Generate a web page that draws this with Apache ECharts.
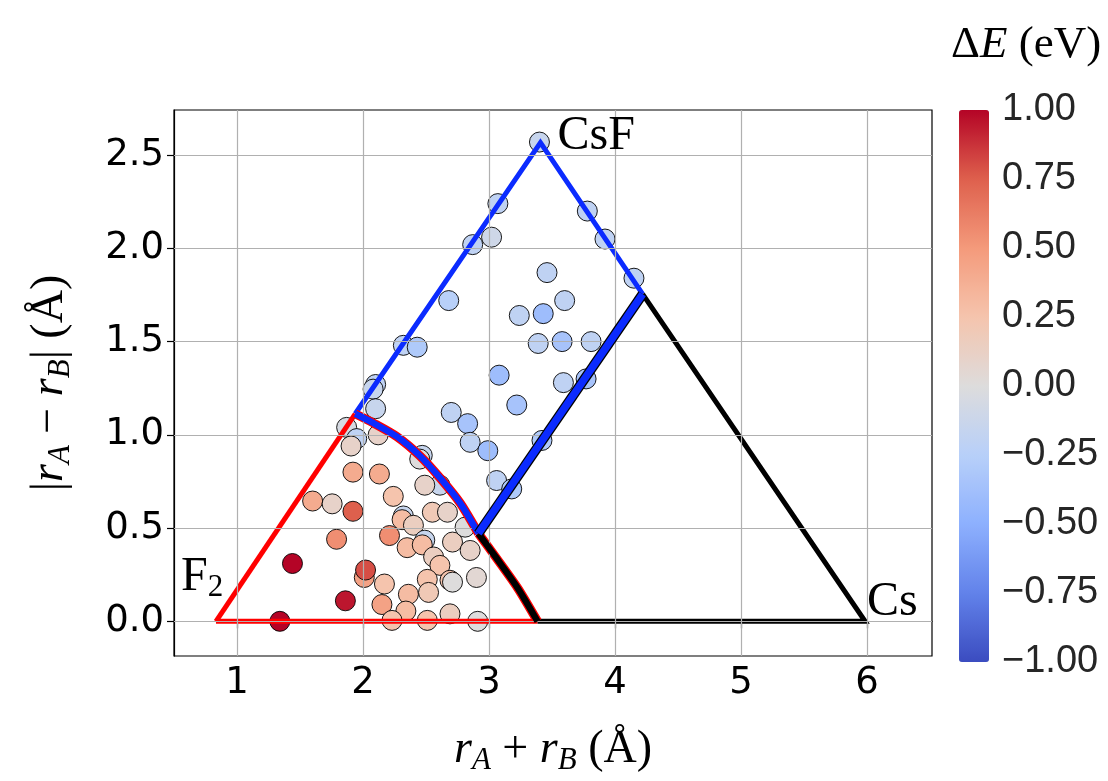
<!DOCTYPE html>
<html><head><meta charset="utf-8">
<script src="https://cdn.jsdelivr.net/npm/echarts@6/dist/echarts.min.js"></script>
<style>html,body{margin:0;padding:0;background:#fff}#c{width:1108px;height:781px}</style>
</head><body><div id="c"></div>
<script>
// ---- data ----
const xTicks = [1, 2, 3, 4, 5, 6];
const yTicks = [0, 0.5, 1, 1.5, 2, 2.5];
const cbTicks = [-1, -0.75, -0.5, -0.25, 0, 0.25, 0.5, 0.75, 1];

// vertices of the phase-diagram boundaries
const F2 = [0.833, 0];
const CsF = [3.408, 2.567];
const Cs = [5.984, 0];
const cornerTop = [1.938, 1.113];
const cornerRight = [4.219, 1.755];
const cornerMid = [2.916, 0.471];
const cornerBottom = [3.385, 0];
// curved boundary
const arcBlue = [[1.938, 1.113], [2.08, 1.064], [2.27, 0.99], [2.45, 0.888], [2.61, 0.77], [2.77, 0.635], [2.916, 0.471]];
const arcBlack = [[2.916, 0.471], [3.06, 0.338], [3.227, 0.179], [3.385, 0]];

// annotation labels
const annotNames = ['CsF', 'Cs', 'F2'];

// scatter points: [rA+rB, |rA-rB|, dE]
const points = [
  [3.40, 2.57, -0.15], [3.07, 2.24, -0.2], [3.78, 2.20, -0.2], [3.92, 2.05, -0.2],
  [3.02, 2.06, -0.1], [2.87, 2.02, -0.2], [4.15, 1.84, -0.2], [3.46, 1.87, -0.2],
  [2.68, 1.72, -0.25], [3.24, 1.64, -0.2], [3.43, 1.65, -0.4], [3.60, 1.72, -0.2],
  [3.39, 1.49, -0.2], [3.58, 1.50, -0.35], [3.81, 1.50, -0.2], [2.32, 1.48, -0.2],
  [2.43, 1.47, -0.3], [3.08, 1.32, -0.4], [3.59, 1.28, -0.2], [3.77, 1.30, -0.35],
  [2.10, 1.27, -0.2], [2.08, 1.245, -0.15], [3.22, 1.16, -0.35], [2.10, 1.14, -0.15],
  [2.70, 1.12, -0.2], [2.83, 1.06, -0.35], [2.85, 0.96, -0.2], [2.99, 0.915, -0.4],
  [3.42, 0.97, -0.3], [3.06, 0.755, -0.2], [3.18, 0.71, -0.3],
  [1.87, 1.04, -0.05], [1.95, 0.98, -0.2], [1.905, 0.94, 0.1], [2.12, 1.0, 0.1],
  [1.92, 0.80, 0.4], [2.13, 0.79, 0.4], [1.60, 0.645, 0.4], [1.755, 0.63, 0.1],
  [1.92, 0.59, 0.75], [1.79, 0.44, 0.55], [1.44, 0.31, 1.0], [2.01, 0.235, 0.45],
  [2.02, 0.275, 0.8], [1.86, 0.11, 0.95], [1.34, 0.0, 1.0], [2.17, 0.20, 0.25],
  [2.15, 0.09, 0.45], [2.21, 0.46, 0.55], [2.24, 0.67, 0.25], [2.47, 0.89, -0.15],
  [2.45, 0.87, 0.0], [2.61, 0.73, -0.15], [2.49, 0.73, 0.1], [2.32, 0.565, -0.15],
  [2.31, 0.545, 0.3], [2.40, 0.515, 0.15], [2.55, 0.585, 0.2], [2.67, 0.585, 0.1],
  [2.49, 0.435, -0.15], [2.35, 0.395, 0.3], [2.47, 0.41, 0.3], [2.56, 0.345, 0.15],
  [2.71, 0.425, 0.15], [2.81, 0.505, 0.0], [2.85, 0.38, 0.1], [2.61, 0.30, 0.25],
  [2.51, 0.225, 0.25], [2.69, 0.22, 0.25], [2.71, 0.21, 0.0], [2.90, 0.235, 0.05],
  [2.36, 0.145, 0.3], [2.52, 0.155, 0.2], [2.34, 0.055, 0.3], [2.23, 0.005, 0.25],
  [2.51, 0.005, 0.25], [2.69, 0.04, 0.15], [2.91, 0.0, 0.0]
];

const coolwarm = ['#3b4cc0', '#6282ea', '#8db0fe', '#b8d0f9', '#dddcdc', '#f5c4ad', '#f49a7b', '#de604d', '#b40426'];

// ---- chart ----
const chart = echarts.init(document.getElementById('c'), null, { renderer: 'canvas' });
const serif = 'Liberation Serif';
const minus = s => s.replace('-', '\u2212');

function lineSeries(data, color, width, z, smooth) {
  return {
    type: 'line', data: data, xAxisIndex: 0, yAxisIndex: 0,
    showSymbol: false, symbol: 'none', silent: true, z: z, animation: false,
    smooth: smooth || false,
    lineStyle: { color: color, width: width, join: 'miter', cap: 'butt' }
  };
}

function mathRich(size, sub) {
  return {
    i: { fontFamily: serif, fontStyle: 'italic', fontWeight: 'normal', fontSize: size, lineHeight: size + 6, verticalAlign: 'middle', color: '#000' },
    s: { fontFamily: serif, fontStyle: 'italic', fontWeight: 'normal', fontSize: sub, lineHeight: sub - 3, verticalAlign: 'bottom', color: '#000' },
    n: { fontFamily: serif, fontWeight: 'normal', fontSize: size, lineHeight: size + 6, verticalAlign: 'middle', color: '#000' }
  };
}

const option = {
  backgroundColor: '#fff',
  animation: false,
  title: {
    left: 946, top: 15,
    text: '{n|\u0394}{i|E}{n| (eV)}',
    textStyle: { fontWeight: 'normal', rich: mathRich(45, 30) }
  },
  grid: [
    { left: 174, top: 110, width: 758, height: 552, show: true, borderColor: '#000', borderWidth: 1.2, containLabel: false },
    { left: 959, top: 110, width: 30, height: 552, show: false, containLabel: false }
  ],
  xAxis: [
    {
      type: 'value', gridIndex: 0, min: 0.5, max: 6.515,
      axisLine: { show: true, lineStyle: { color: '#000', width: 1.2 } },
      axisTick: { show: true, customValues: xTicks, length: 7, lineStyle: { color: '#000', width: 1.2 } },
      axisLabel: { customValues: xTicks, fontSize: 37, fontFamily: 'DejaVu Sans', color: '#000', margin: 9 },
      splitLine: { show: false },
      name: '{i|r}{s|A}{n| + }{i|r}{s|B}{n| (\u00c5)}',
      nameLocation: 'middle', nameGap: 68,
      nameTextStyle: { rich: mathRich(46, 31) }
    },
    { type: 'value', gridIndex: 1, min: 0, max: 1, show: false }
  ],
  yAxis: [
    {
      type: 'value', gridIndex: 0, min: -0.186, max: 2.742,
      axisLine: { show: true, lineStyle: { color: '#000', width: 1.2 } },
      axisTick: { show: true, customValues: yTicks, length: 7, lineStyle: { color: '#000', width: 1.2 } },
      axisLabel: { customValues: yTicks, fontSize: 37, fontFamily: 'DejaVu Sans', color: '#000', margin: 10,
        formatter: v => v.toFixed(1) },
      splitLine: { show: false },
      name: '{n||}{i|r}{s|A}{n| \u2212 }{i|r}{s|B}{n|| (\u00c5)}',
      nameLocation: 'middle', nameGap: 98, nameRotate: 90,
      nameTextStyle: { rich: mathRich(46, 31) }
    },
    {
      type: 'value', gridIndex: 1, min: -1, max: 1, interval: 0.25, position: 'right',
      axisLine: { show: false }, axisTick: { show: false }, splitLine: { show: false },
      axisLabel: { fontSize: 38, fontFamily: 'Liberation Sans', color: '#262626', margin: 13,
        formatter: v => minus(v.toFixed(2)) }
    }
  ],
  visualMap: {
    type: 'continuous', min: -1, max: 1, dimension: 2, seriesIndex: 1,
    left: 959, top: 110, itemWidth: 30, itemHeight: 552, padding: 0,
    calculable: false, text: null, showLabel: false, hoverLink: false,
    inRange: { color: coolwarm }
  },
  series: [
    {
      type: 'scatter', data: [], xAxisIndex: 0, yAxisIndex: 0, z: 1, silent: true,
      markLine: {
        silent: true, symbol: ['none', 'none'], animation: false,
        label: { show: false },
        lineStyle: { color: '#b0b0b0', width: 1.2, type: 'solid' },
        emphasis: { disabled: true },
        data: xTicks.map(v => ({ xAxis: v })).concat(yTicks.map(v => ({ yAxis: v })))
      }
    },
    {
      type: 'scatter', data: points, xAxisIndex: 0, yAxisIndex: 0, z: 2,
      symbol: 'circle', symbolSize: 20, silent: true,
      itemStyle: { borderColor: '#000', borderWidth: 0.9, opacity: 1 }
    },
    lineSeries([F2, cornerTop], '#ff0000', 5, 3),
    lineSeries([F2, cornerBottom], '#ff0000', 5, 3),
    lineSeries([cornerTop, CsF, cornerRight], '#0b2bff', 5, 3),
    lineSeries([cornerRight, Cs, cornerBottom], '#000', 5, 3),
    lineSeries(arcBlue, '#ff0000', 9, 4, 0.25),
    lineSeries(arcBlack, '#ff0000', 9, 4, 0.25),
    lineSeries(arcBlue, '#0b2bff', 6.5, 5, 0.25),
    lineSeries(arcBlack, '#000', 6.5, 5, 0.25),
    lineSeries([cornerMid, cornerRight], '#000', 10, 6),
    lineSeries([cornerMid, cornerRight], '#0b2bff', 7.5, 7)
  ]
};
chart.setOption(option);

// vertex annotations, placed through the axis scales
const pCsF = chart.convertToPixel({ xAxisIndex: 0, yAxisIndex: 0 }, CsF);
const pCs = chart.convertToPixel({ xAxisIndex: 0, yAxisIndex: 0 }, Cs);
const pF2 = chart.convertToPixel({ xAxisIndex: 0, yAxisIndex: 0 }, F2);
const annFont = { fontFamily: serif, fontSize: 48, fill: '#000', textAlign: 'left', textVerticalAlign: 'middle' };
chart.setOption({
  graphic: [
    { type: 'text', z: 100, x: pCsF[0] + 17, y: pCsF[1] - 6, style: Object.assign({ text: annotNames[0] }, annFont) },
    { type: 'text', z: 100, x: pCs[0] + 2, y: pCs[1] - 19, style: Object.assign({ text: annotNames[1] }, annFont) },
    { type: 'text', z: 100, x: pF2[0] - 35, y: pF2[1] - 44, style: Object.assign({}, annFont, {
        text: '{f|F}{g|' + annotNames[2].slice(1) + '}',
        rich: {
          f: { fontFamily: serif, fontSize: 48, lineHeight: 52, verticalAlign: 'middle', fill: '#000' },
          g: { fontFamily: serif, fontSize: 31, lineHeight: 28, verticalAlign: 'bottom', fill: '#000' }
        }
      }) }
  ]
});
</script>
</body></html>
